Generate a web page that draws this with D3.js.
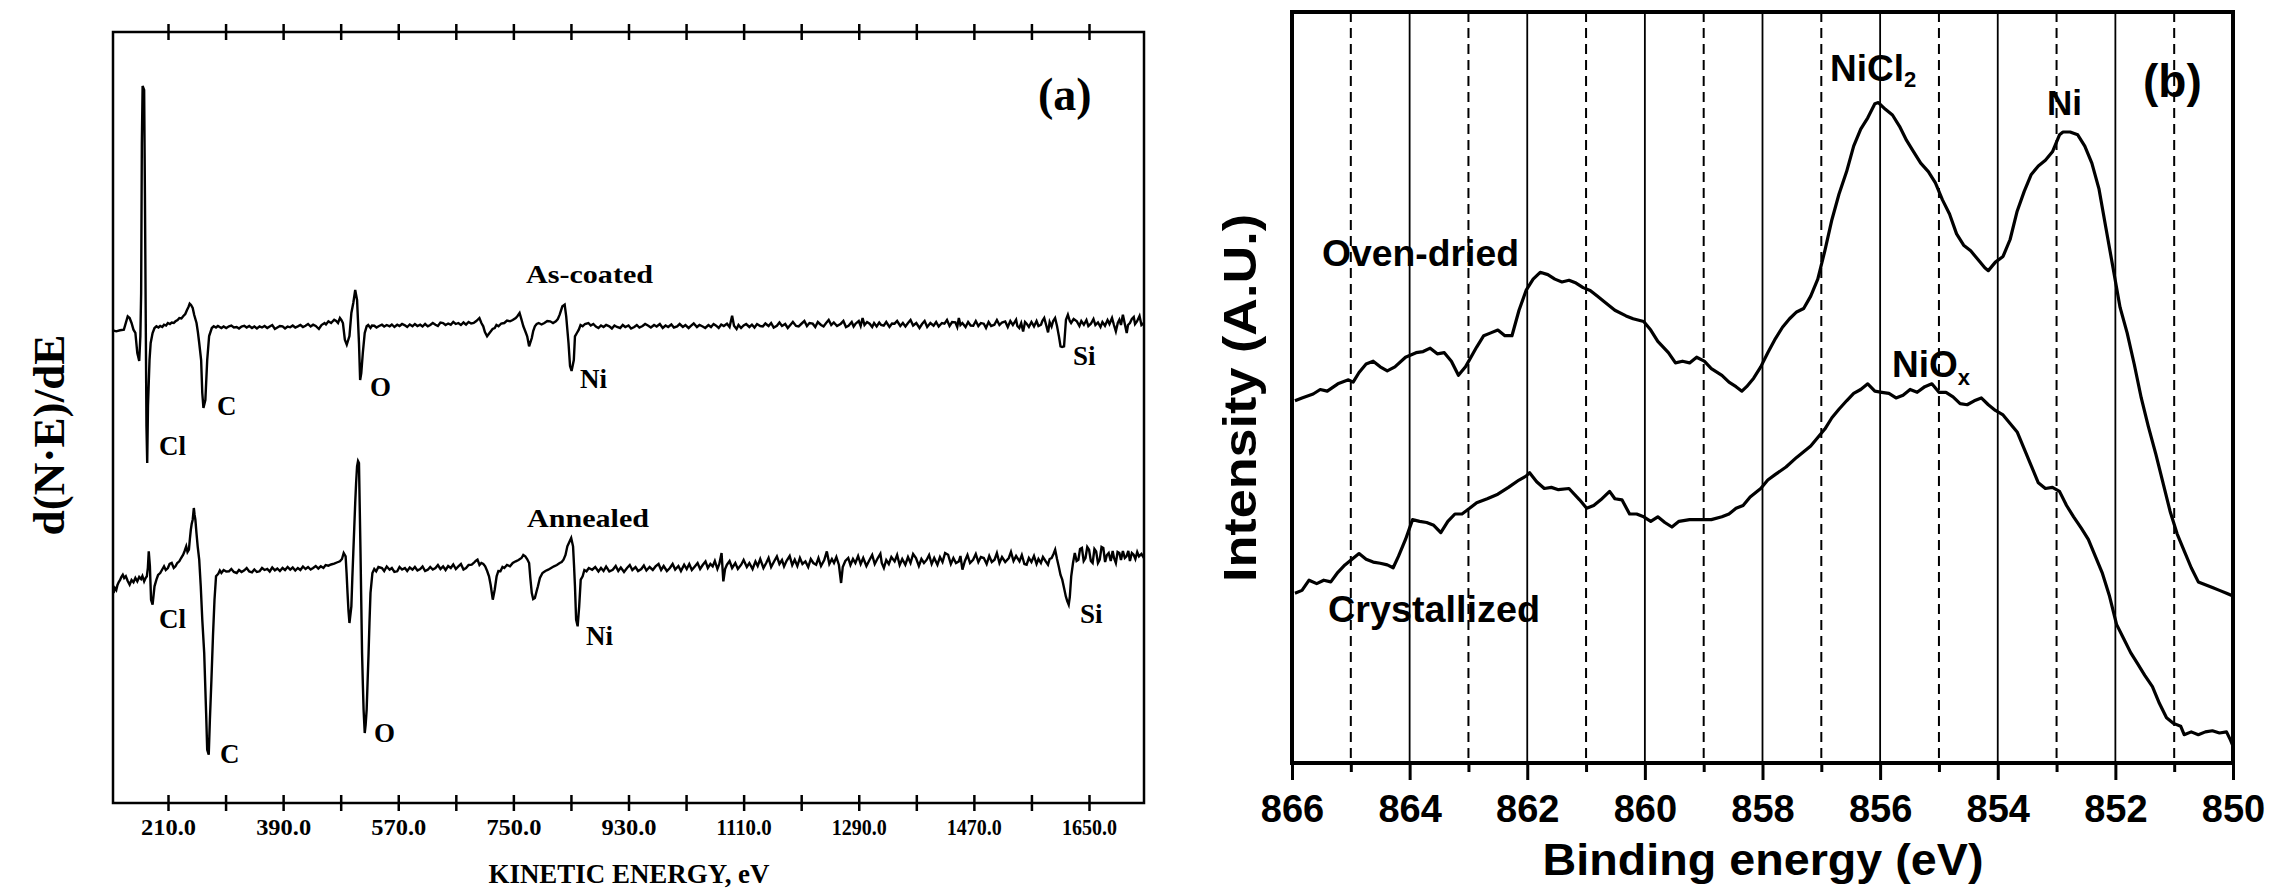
<!DOCTYPE html>
<html><head><meta charset="utf-8">
<script src="https://cdn.jsdelivr.net/npm/d3@7"></script>
<style>body{margin:0;background:#fff}svg{display:block}</style>
</head><body>
<svg id="chart" width="2275" height="889"></svg>
<script>
// ---------------- Panel (a): AES derivative spectra ----------------
const aesTicks = d3.range(210, 1651, 90);
const aesTickLabels = [210, 390, 570, 750, 930, 1110, 1290, 1470, 1650];
const annealedOffset = -245;

const asCoatedEnergy = [124,129,135,141,147,150,153,156,159,162,165,166.8,168,169.1,170.3,172.7,173.9,175.1,176.3,177.5,178.7,181.1,182.9,185.9,188.9,191.9,195,197.8,201,203.8,207,209.8,213,215.8,219,221.7,225,227.7,231,233.7,237,239.7,242,243.9,246,248.6,251,254.6,256.7,258.8,261.8,263.6,265.4,268.4,271.3,274.3,278.5,281.5,285,288,293.5,297,301,305.4,309,313,317.4,321,325,329.3,333,337,341.3,345,349,353.2,357,361,365.2,369,373,377.1,381,385,389.1,393,397,401.1,405,409,413,417,421,425,429,433,436.9,441,445.9,450,454.8,457,460.8,465,469.8,473,475.8,478.8,481,483.5,486.5,489.5,493.7,496.7,499.7,502.7,505.6,508.6,510.4,512.2,514.6,517.6,520.6,523,526.6,529,532.5,536,540,544.5,548,552,556.5,560,564,568.4,572,576,580.4,584,588,592.3,596,600,604.3,608,612,616.2,620,624,628.2,632,636,640.1,644,648,652.1,656,660,664,668,672,676,680,684,688,692,696.9,700,702.9,705.5,708.9,711.5,714.8,717.5,720.8,723.5,726.8,731,735.8,740,744.7,749,753.7,756.5,759.7,762.7,765.6,768.5,771.6,774.6,778.8,781,783.6,786.5,789.6,794,798.5,803,807.5,812,816.4,819.5,822.4,826.6,830.2,832.6,836.2,838.6,841,844.5,846.3,849.3,852.3,855,858.3,862,867.3,871,875,879,883,887,891,895,900,904,908,912,917,921,925,930,934,939,943,947,952,956,961,965,970,974,979,983.5,988,992,997,1001,1006,1010,1015,1019,1024,1028,1032,1037,1041,1046,1050,1055,1059,1063,1067,1071,1075,1079,1084,1088,1092,1095,1099,1102,1106,1110,1114,1119,1123,1127,1131,1136,1140,1144,1149,1153,1157,1162,1166,1170,1175,1179,1183,1187,1192,1196,1200,1205,1209,1213,1218,1222,1226,1231,1235,1239,1243,1247,1251,1256,1262,1266,1270,1274,1279,1282,1285,1290,1293,1296,1299,1303,1307,1311,1314,1318,1322,1325,1329,1333,1338,1342,1346,1350,1355,1359,1363,1367,1371,1375,1380,1385,1389,1393,1397,1402,1407,1411,1415,1420,1424,1428,1432,1436,1441,1444,1446.5,1449,1452,1457,1461,1465,1469,1473,1477,1481,1485.5,1489,1493,1497,1502,1506,1510,1514,1519,1523,1527,1531,1536,1538,1541,1544,1547,1550,1552.5,1556,1560,1564,1568,1571,1575,1577,1580,1583,1586,1588.5,1591.5,1594,1597,1600,1603,1605.5,1608,1611,1614,1617,1620,1622,1626,1631,1635,1638,1642,1646,1649,1653,1657,1660,1664,1668,1671,1675,1679,1682,1686,1689,1692,1695,1697.5,1700,1703,1706,1709,1711,1714,1717,1720,1722,1725,1729,1732,1736];
const asCoatedSignal = [-2.3,-3.3,-2.3,-1.7,11.7,10,5,-1.7,-5,-25,-33,-8,35,185,242,238,135,18,-98,-135,-78,-32,-15,-5,0,1.7,0.5,2,1,3.3,2.5,5,4,5.5,5,6.7,8,10,9.5,11.7,14,18,21,24.3,23,20,13,5,-4,-15,-32,-65,-80,-72,-32,-8,0,1.7,0.5,2,0,1.5,0,1.7,2.5,0.5,1,-0.5,1.5,2.3,0.5,2,0,1.5,-0.5,1.7,0.5,2,0,1.5,3,-1,0.5,2,1.7,-0.5,1.5,0.7,2.5,0.5,1.7,3,1,2.3,4,1.5,3.3,2,-1,3,5,3.5,6.7,5,8.3,7,5,10,8,5,-11.7,-16.7,-8,15,25,38,28,-15,-52,-45,-25,-5,1.7,3,0,2.5,2.3,0.5,2,3.3,1.5,3,1.7,3.5,1,3.3,2,4,2.7,1,3.5,1.7,4,2,3.3,1.5,4,1.7,3,5,3.3,2,5.5,5,3,4.5,3.3,6,4,5,3,5.5,3.3,6,4.5,5,7,10,5,1.7,-4,-8.3,-6,-3.3,-1,0,3,1.7,4.5,5,7.5,6.7,8,10,12,15,8.3,1.7,-3,-8.3,-18.3,-10,-3,1.7,4,5,3.5,5,7,6.7,5,6.7,9,13.3,21.7,23.3,11.7,-15,-38,-43,-32,-8.3,-5,-1.7,3,1.7,4,5,2.5,4,1.5,0,2.5,1,3,1.6,-0.5,2.5,1,0,3,1,2.5,-0.5,1,3,0.5,2,4,2.3,0.5,3,1.5,4,0,2.5,1,3.5,0.5,1.6,4,1,3,0,2.3,4.5,1,3,1.5,0,3,1,4,2.3,0,3.5,2,4.3,1,12.3,2.3,-1,3,0,2.5,4,1,3.3,0.5,4,2,1.6,4.5,2,5,0.5,2.3,5.5,2,4,0,3,6,2,1.6,4,7,2,5,4.3,1,6,3,1.6,5,8,3,5.6,2,4.3,7,1,2.3,6,1.5,4.3,7,2,10,3,6,4.3,1,5,1.6,5.5,3,2.3,6,1,4.5,4.3,7,2,5,1.6,5,8,2.5,5,0,4,7,1,5,2.3,6,1.5,5,4.3,8,2,6,5.6,1,10,3,5,1,6,2.5,2.3,7,2,5,4.3,0,6,2,3.3,8,3,5.5,6.6,1,7,3,8.3,2,0,5,-3.4,6,4.3,1,6,1.6,7,2,3.3,7,10,3,-4.4,6,1.6,7,10,2,-8.4,-18.4,-19,-18.4,8.3,13.3,7,5,9,6.6,2,7,3.3,8,2,4.3,9,3,5.6,1,6,2.3,8,4,10,3,-3.4,5,8.3,3,13.3,4,-5,3,5,9,11,4,6.6,12,3,5];

const annealedEnergy = [124.9,127,129.1,131,133,135.1,137,139.3,141.5,144,147,150,153,156,159,162,165,167.9,170,172.7,175,176.9,178.5,179.9,181.7,183.5,185.9,188.9,191.9,194.5,197.8,200.5,203.8,206.5,209.8,212.5,215.8,219,221.7,224.5,227.7,230.5,233.7,236,238.5,240.5,242.7,244.2,245.7,247,248.6,250.4,251.6,252.8,254.5,256.4,258.8,261.2,263.6,266.6,269.6,271.3,273.7,275.5,277.9,280.3,282.7,285.1,288.7,291,293.5,297,301,305.4,309,313,317.4,321,325,329.3,333,337,341.3,345,349,353.2,357,361,365.2,369,373,377.1,381,385,389.1,393,397,401.1,405,409,413,417,421,425,429,433,436.9,441,445,448.9,453,456.5,460.8,465,469.8,474,478.8,482,484.7,487.7,489.2,490.7,492.2,493.7,496.7,498.2,499.7,501.2,502.7,504.1,505.6,507.1,508.6,509.8,511,512.2,513.4,514.6,515.8,517.6,519,520.6,522,523.6,525,526.6,529.6,532.5,535.5,539,544.5,548,552,556.5,560,564,568.4,572,576,580.4,584,588,592.3,596,600,604.3,608,612,616.2,620,624,628.2,632,636,640.1,644,648,652.1,656,660,664,668,672,676,680,684.9,688,691,693.9,697,699.9,703,705.9,709,711.9,714.5,717.8,720.8,723.8,726.5,729.8,733,735.8,740,744.7,749,753.7,758,762.7,765.5,768.6,771.5,774.6,776.5,778.8,781,783.6,786,788.4,791.5,795.5,800,804.5,809,813.5,818,822.4,825.5,828.4,831.5,834.4,837.5,840.4,843.3,844.8,846.3,848.1,850.5,852.9,855.3,858.3,861,864.3,868,873.2,878,883,887,891,895,900,905.4,910,914,918,923,927.7,932,936,941,945,950,954,958,963,968,972.3,977,981,985,990,994.7,999,1003,1008,1012,1017,1021,1025,1029,1033.7,1038,1042,1046,1050.4,1054,1058,1061.6,1065,1069,1072,1075.5,1078.3,1081,1083.9,1088,1092,1097,1101,1106.2,1110,1115,1119,1124,1128.5,1132,1136,1141,1145.3,1149,1153,1158,1162,1166,1170,1173.2,1177,1182,1186,1189.9,1194,1198,1202,1206.6,1211,1215,1219,1223.4,1227,1231,1236,1240.1,1244,1248,1251.3,1255,1259,1262.4,1265,1269,1273.6,1277,1281,1284.7,1289,1293,1297,1302,1307,1311,1315,1319,1323.8,1326,1329.3,1333,1337,1341,1346.1,1350,1354,1358,1362.8,1367,1371,1375,1379.5,1384,1388,1392,1396.3,1400,1404,1408,1413,1417,1421,1425,1429.7,1434,1438,1442,1446.5,1449,1452.1,1456,1460,1464,1468.8,1473,1477,1481,1485.5,1490,1494,1498,1502.3,1506,1510,1514,1519,1524.6,1528,1532,1536,1541.3,1545,1549,1552.5,1556,1560,1564,1568,1571,1574.8,1578,1582,1585.9,1588.5,1591.5,1594.5,1597.1,1600,1602.7,1605.5,1608.2,1611,1613.8,1616,1618.3,1620,1622.2,1625,1627.8,1630.6,1633.4,1636,1638.9,1641.7,1644.5,1647.3,1650.1,1652.9,1655.7,1658.5,1661.2,1664,1666.8,1669.6,1672.4,1675.2,1678,1680.8,1684,1687,1689.1,1692,1694.7,1697.5,1700,1703,1706,1708.6,1711.5,1714,1717,1719.8,1722.5,1725.4,1728.2,1732,1736];
const annealedSignal = [-20,-15,-17,-12,-9,-7,-4,-1.7,-5,-3.3,-8,-11.7,-7,-9.3,-5,-8.3,-4,-6,-3,-8.3,-5,-3.3,5,21.7,6.7,-26.7,-31.7,-13.3,-6.7,-2,0,3,6.7,3,5,9,10,5,6.7,10,11.7,15,18.3,22,26.7,21,23.3,34,43.3,49,53.3,65,58,53.3,40,26.7,13.3,-13.3,-46.7,-80,-140,-176.7,-181.7,-146.7,-106.7,-63.3,-26.7,-3.3,-0.7,2.5,0,3,1.5,1.7,4,1,0,3,1,2.7,5,1.5,0.7,3.5,1,1.7,5,3,4,1.5,5.5,2.7,4.5,2,5,3,6,3.3,5.5,2.5,5,3,6.5,4,6,3.5,5,7,4.5,6.7,5,8,7.3,8.5,9.3,10.5,11.7,14,20,16.7,0,-20,-38,-50,-33.3,-5,20,45,70,90,106.7,112,110,65,20,-30,-80,-110,-136.7,-160,-152,-136.7,-110,-80,-50,-20,0,4,1.7,6,5,2,6.5,3.3,5,1,1.7,6,3.5,5,2,5.5,3.3,6,2.5,4,6.5,2,3.3,6,3.5,5,8,4,6.7,3,7,5,8.5,4,6.7,9,3.5,5,8,8.3,10,12,13.3,8,10,9,6.7,2,-3.3,-12,-26.7,-16.7,-3.3,2,1.7,6,5,8,6.7,10,11.7,13,15,18,16.7,14,10,-5,-20,-26,-25,-19,-13.3,-5,0,2,3.3,5,6.7,8,10,11,13.3,18,26.7,31,35,26.7,8,-13.3,-46.7,-53.3,-33.3,-6.7,-3.3,3,1.7,5,3.3,6,1.6,5,2,6.5,1.5,3.3,7,2,5.5,1,5,8,3,6,2,4,7.5,2.5,6,3,6.6,9,3,7,2,5,9,3.5,7,2,8.3,4,9,3,6.6,10,4,8,11.6,5,9,6.6,12,4,9,20,-8.4,4,8.3,12,5,10,4,8.3,13,6,10,4,11.6,7,14,5,10,15,6,12,16.6,9,13,6.6,12,17,8,13.3,7,15,9,11.6,6,14,10,8.3,15,7,13,21.6,9,14,10,16,8,-10,6,12,15,8,14,10,17,9,15,7,13.3,18,9,14,19.3,10,5,13,9,16,11.6,18,8,14,8.3,16,10,19,15,7,14,10,13.3,18,9,15,8.3,16,11,20,18.3,9,15,10,11.6,17,3.3,12,18,10,13.3,19,11,16,15,9,17,11,13.3,20,10,16,11,15,21,12,17,11.6,18,9,8.3,15,11,17,9,14,10,16,12,8.3,14,15,19,23.3,14,6.6,-2,-6.7,-15,-23.4,-28,-31.7,-24,-3.4,10,20,12,13.3,24,25,12,15,26,23.3,12,10,24,21.6,10,13.3,26,25,11,18,20,12,22,15,10,21,20,13,22,15,16.6,22,12,20,18.3,14,21,16.6,19,15];

const aesLabels = [
  {t:"Cl", x:159, y:455}, {t:"C", x:217, y:415}, {t:"O", x:370, y:396},
  {t:"Ni", x:580, y:388}, {t:"Si", x:1073, y:365},
  {t:"Cl", x:159, y:628}, {t:"C", x:220, y:763}, {t:"O", x:374, y:742},
  {t:"Ni", x:586, y:645}, {t:"Si", x:1080, y:623}
];

// ---------------- Panel (b): Ni 2p XPS ----------------
const xpsTicks = d3.range(850, 867, 1);
const xpsTickLabels = [866, 864, 862, 860, 858, 856, 854, 852, 850];

const ovenEnergy = [865.95,865.83,865.64,865.52,865.40,865.22,865.04,864.96,864.86,864.74,864.62,864.50,864.38,864.25,864.07,863.89,863.77,863.65,863.53,863.41,863.29,863.17,863.05,862.86,862.74,862.62,862.50,862.38,862.26,862.14,862.02,861.90,861.78,861.65,861.53,861.41,861.29,861.17,861.05,860.93,860.81,860.69,860.51,860.32,860.20,860.02,859.90,859.78,859.60,859.48,859.36,859.24,859.12,858.99,858.87,858.69,858.57,858.45,858.35,858.27,858.15,858.03,857.91,857.78,857.66,857.54,857.42,857.30,857.18,857.06,856.94,856.82,856.70,856.57,856.45,856.33,856.21,856.09,856.03,855.91,855.79,855.67,855.55,855.43,855.31,855.18,855.06,854.94,854.82,854.70,854.58,854.46,854.34,854.22,854.16,854.04,853.91,853.79,853.67,853.55,853.43,853.31,853.19,853.07,852.95,852.89,852.77,852.64,852.52,852.40,852.28,852.16,852.04,851.92,851.80,851.68,851.56,851.44,851.31,851.19,851.07,850.95,850.83,850.71,850.59,850.47,850.35,850.23,850.11,850.00];
const ovenIntensity = [640,645,652,660,657,670,677,673,690,705,710,700,693,700,717,725,727,733,723,725,710,685,700,735,755,760,765,755,755,800,835,855,867,863,855,850,853,848,840,835,825,815,800,790,785,780,765,745,725,707,710,707,717,710,697,685,673,665,657,665,680,700,725,750,770,785,797,803,825,855,905,960,1005,1045,1090,1120,1140,1165,1167,1155,1145,1125,1100,1080,1060,1045,1025,995,970,935,915,905,890,875,870,885,895,925,975,1010,1040,1055,1065,1080,1110,1115,1115,1110,1090,1060,1015,945,875,805,760,705,645,595,545,495,445,405,375,345,320,315,310,305,300,295];

const crystEnergy = [865.95,865.83,865.71,865.58,865.46,865.34,865.22,865.10,864.98,864.86,864.74,864.62,864.50,864.38,864.28,864.19,864.07,863.95,863.83,863.71,863.59,863.47,863.35,863.23,863.11,862.98,862.86,862.68,862.50,862.32,862.14,862.02,861.96,861.84,861.71,861.59,861.47,861.29,861.11,860.99,860.87,860.75,860.60,860.51,860.39,860.26,860.14,860.02,859.90,859.78,859.66,859.54,859.42,859.24,859.05,858.87,858.69,858.57,858.45,858.33,858.21,858.03,857.91,857.78,857.60,857.42,857.30,857.18,857.06,856.94,856.82,856.70,856.57,856.45,856.33,856.21,856.09,855.97,855.85,855.73,855.61,855.49,855.37,855.24,855.12,855.00,854.88,854.76,854.64,854.52,854.40,854.28,854.16,854.04,853.91,853.79,853.67,853.55,853.43,853.31,853.19,853.07,852.95,852.83,852.71,852.58,852.46,852.34,852.22,852.10,851.98,851.86,851.74,851.62,851.50,851.37,851.25,851.13,851.01,850.89,850.83,850.71,850.59,850.47,850.35,850.23,850.11,850.04,850.00];
const crystIntensity = [300,305,323,317,323,320,337,350,360,370,360,355,353,350,345,365,395,430,427,425,420,407,427,440,440,450,460,467,475,487,500,507,513,497,485,487,483,485,465,450,455,465,480,467,465,440,440,435,427,435,425,417,427,430,430,430,435,440,450,455,470,485,500,510,523,540,550,560,575,590,610,625,640,653,660,670,657,655,653,645,650,660,655,665,670,655,655,647,635,633,640,645,633,623,615,600,585,555,525,495,485,487,480,455,435,415,395,365,335,295,245,220,195,175,155,135,105,80,70,65,50,55,50,55,57,53,55,40,30];

// ---------------- drawing ----------------
const svg = d3.select("#chart");
const serif = "'Liberation Serif','Times New Roman',serif";
const sans = "'Liberation Sans',Arial,sans-serif";

// Panel (a)
const xa = d3.scaleLinear().domain([124, 1736]).range([113, 1144]);
const ya = d3.scaleLinear().domain([-475, 296]).range([803, 32]);
const ga = svg.append("g");

ga.append("rect").attr("x", 113).attr("y", 32).attr("width", 1031).attr("height", 771)
  .attr("fill", "none").attr("stroke", "#000").attr("stroke-width", 2.5);

function tickAxes(g, yPos) {
  g.append("g").attr("transform", `translate(0,${yPos})`)
    .call(d3.axisBottom(xa).tickValues(aesTicks).tickSize(8).tickFormat(""))
    .call(s => s.select(".domain").remove())
    .selectAll("line").attr("stroke-width", 2.5);
  g.append("g").attr("transform", `translate(0,${yPos})`)
    .call(d3.axisTop(xa).tickValues(aesTicks).tickSize(8).tickFormat(""))
    .call(s => s.select(".domain").remove())
    .selectAll("line").attr("stroke-width", 2.5);
}
tickAxes(ga, 803);
tickAxes(ga, 32);

const labAx = ga.append("g").attr("transform", "translate(0,803)")
  .call(d3.axisBottom(xa).tickValues(aesTickLabels).tickSize(0).tickFormat(d => d.toFixed(1)));
labAx.select(".domain").remove();
labAx.selectAll("text").attr("y", 32).attr("dy", 0)
  .attr("font-family", serif).attr("font-weight", "bold").attr("font-size", 23)
  .attr("textLength", 55).attr("lengthAdjust", "spacingAndGlyphs").attr("fill", "#000");

const lineA = d3.line().x(d => xa(d[0])).y(d => ya(d[1]));
const asData = asCoatedEnergy.map((e, i) => [e, asCoatedSignal[i]]);
const anData = annealedEnergy.map((e, i) => [e, annealedSignal[i] + annealedOffset]);
[asData, anData].forEach(dat => {
  ga.append("path").datum(dat).attr("d", lineA)
    .attr("fill", "none").attr("stroke", "#000").attr("stroke-width", 2.4)
    .attr("stroke-linejoin", "miter");
});

aesLabels.forEach(l => {
  ga.append("text").attr("x", l.x).attr("y", l.y).text(l.t)
    .attr("font-family", serif).attr("font-weight", "bold").attr("font-size", 27);
});
ga.append("text").attr("x", 526).attr("y", 283).text("As-coated")
  .attr("font-family", serif).attr("font-weight", "bold").attr("font-size", 25)
  .attr("textLength", 127).attr("lengthAdjust", "spacingAndGlyphs");
ga.append("text").attr("x", 527).attr("y", 527).text("Annealed")
  .attr("font-family", serif).attr("font-weight", "bold").attr("font-size", 25)
  .attr("textLength", 122).attr("lengthAdjust", "spacingAndGlyphs");
ga.append("text").attr("x", 1038).attr("y", 110).text("(a)")
  .attr("font-family", serif).attr("font-weight", "bold").attr("font-size", 46);
ga.append("text").attr("x", 629).attr("y", 883).text("KINETIC ENERGY, eV")
  .attr("text-anchor", "middle").attr("font-family", serif).attr("font-weight", "bold").attr("font-size", 27)
  .attr("textLength", 281).attr("lengthAdjust", "spacingAndGlyphs");
ga.append("text").attr("transform", "translate(64,435) rotate(-90)").text("d(N·E)/dE")
  .attr("text-anchor", "middle").attr("font-family", serif).attr("font-weight", "bold")
  .attr("font-size", 44).attr("textLength", 201).attr("lengthAdjust", "spacingAndGlyphs");

// Panel (b)
const xb = d3.scaleLinear().domain([866, 850]).range([1292, 2233]);
const yb = d3.scaleLinear().domain([0, 1327]).range([763, 12]);
const gb = svg.append("g");

gb.selectAll("line.grid").data(xpsTicks.filter(v => v > 850 && v < 866)).enter()
  .append("line").attr("class", "grid")
  .attr("x1", d => xb(d)).attr("x2", d => xb(d)).attr("y1", 12).attr("y2", 763)
  .attr("stroke", "#000").attr("stroke-width", d => d % 2 === 0 ? 1.8 : 2)
  .attr("stroke-dasharray", d => d % 2 === 0 ? null : "10,6");

const axB = gb.append("g").attr("transform", "translate(0,763)")
  .call(d3.axisBottom(xb).tickValues(xpsTicks).tickSize(17)
    .tickFormat(d => xpsTickLabels.includes(d) ? String(d) : ""));
axB.select(".domain").remove();
axB.selectAll(".tick line").attr("stroke-width", 3).attr("y2", d => d % 2 === 0 ? 17 : 9);
axB.selectAll("text").attr("y", 59).attr("dy", 0)
  .attr("font-family", sans).attr("font-weight", "bold").attr("font-size", 38).attr("fill", "#000");

gb.append("rect").attr("x", 1292).attr("y", 12).attr("width", 941).attr("height", 751)
  .attr("fill", "none").attr("stroke", "#000").attr("stroke-width", 4);

const lineB = d3.line().x(d => xb(d[0])).y(d => yb(d[1]));
const ovenData = ovenEnergy.map((e, i) => [e, ovenIntensity[i]]);
const crystData = crystEnergy.map((e, i) => [e, crystIntensity[i]]);
[ovenData, crystData].forEach(dat => {
  gb.append("path").datum(dat).attr("d", lineB)
    .attr("fill", "none").attr("stroke", "#000").attr("stroke-width", 3.2)
    .attr("stroke-linejoin", "round");
});

function sansText(x, y, t, size, len) {
  const s = gb.append("text").attr("x", x).attr("y", y).text(t)
    .attr("font-family", sans).attr("font-weight", "bold").attr("font-size", size);
  if (len) s.attr("textLength", len).attr("lengthAdjust", "spacingAndGlyphs");
  return s;
}
sansText(1322, 266, "Oven-dried", 36, 197);
sansText(1328, 622, "Crystallized", 36, 212);
sansText(2047, 115, "Ni", 35);
const nicl = sansText(1830, 81, "NiCl", 37);
nicl.append("tspan").attr("font-size", 22).attr("dy", 6).text("2");
const niox = sansText(1892, 377, "NiO", 37);
niox.append("tspan").attr("font-size", 22).attr("dy", 8).text("x");
sansText(2143, 97, "(b)", 46);

gb.append("text").attr("x", 1763).attr("y", 875).text("Binding energy (eV)")
  .attr("text-anchor", "middle").attr("font-family", sans).attr("font-weight", "bold")
  .attr("font-size", 45).attr("textLength", 441).attr("lengthAdjust", "spacingAndGlyphs");
gb.append("text").attr("transform", "translate(1256,398) rotate(-90)").text("Intensity (A.U.)")
  .attr("text-anchor", "middle").attr("font-family", sans).attr("font-weight", "bold")
  .attr("font-size", 46).attr("textLength", 368).attr("lengthAdjust", "spacingAndGlyphs");
</script>
</body></html>
